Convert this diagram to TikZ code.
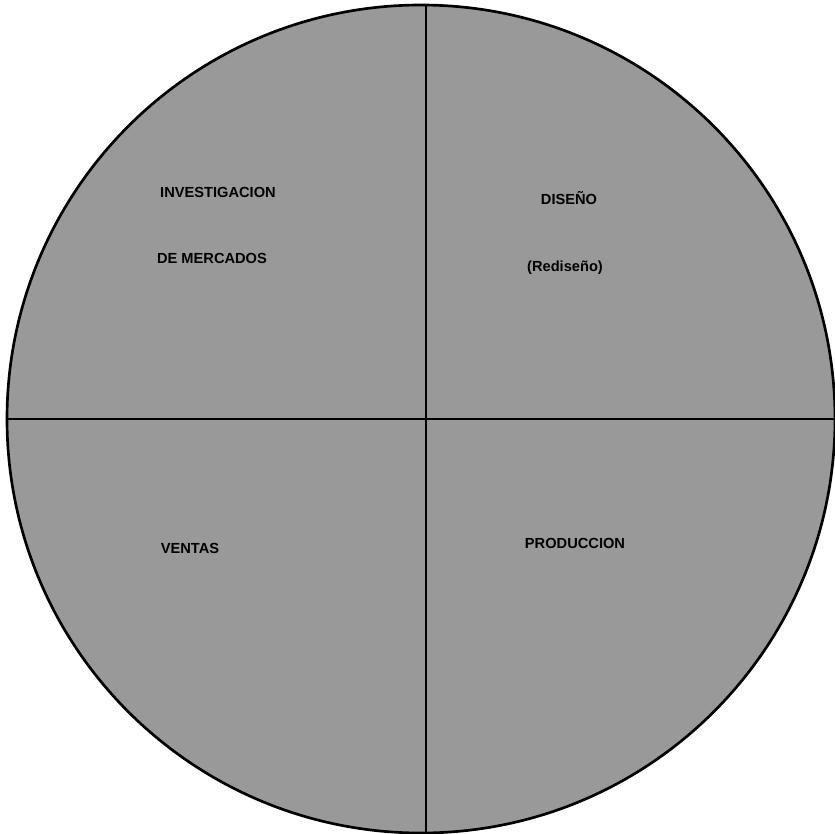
\documentclass[tikz,border=0pt]{standalone}
\usepackage{fontspec}
\setmainfont{Liberation Sans}
\usepackage{tikz}
\usetikzlibrary{positioning}

\begin{document}
\begin{tikzpicture}[x=0.3mm, y=-0.3mm, area/.style={font=\fontsize{12.5}{14}\selectfont\bfseries, inner sep=0pt}]
		\useasboundingbox (0,0) rectangle (835,833);
		\fill[black!40] (421,419) circle (414);
		\draw[line width=0.8mm] (421,419) circle (414);
		
		\coordinate (top) at (426,5);
		\coordinate (bottom) at (426,833);
		\coordinate (left) at (7,419);
		\coordinate (right) at (835,419);
		
		\node[area] (inv) at (218,192) {INVESTIGACION};
		\node[area] (merc) at (212,258) {DE MERCADOS};
		\node[area] (dis) at (569,198) {DISEÑO};
		\node[area] (redis) at (565,268) {(Rediseño)};
		\node[area] (vent) at (190,548) {VENTAS};
		\node[area] (prod) at (575,543) {PRODUCCION};
		
		% Draw axes
		\draw[line width=0.8mm] (top) -- (bottom);
		\draw[line width=0.8mm] (left) -- (right);
	\end{tikzpicture}
\end{document}
